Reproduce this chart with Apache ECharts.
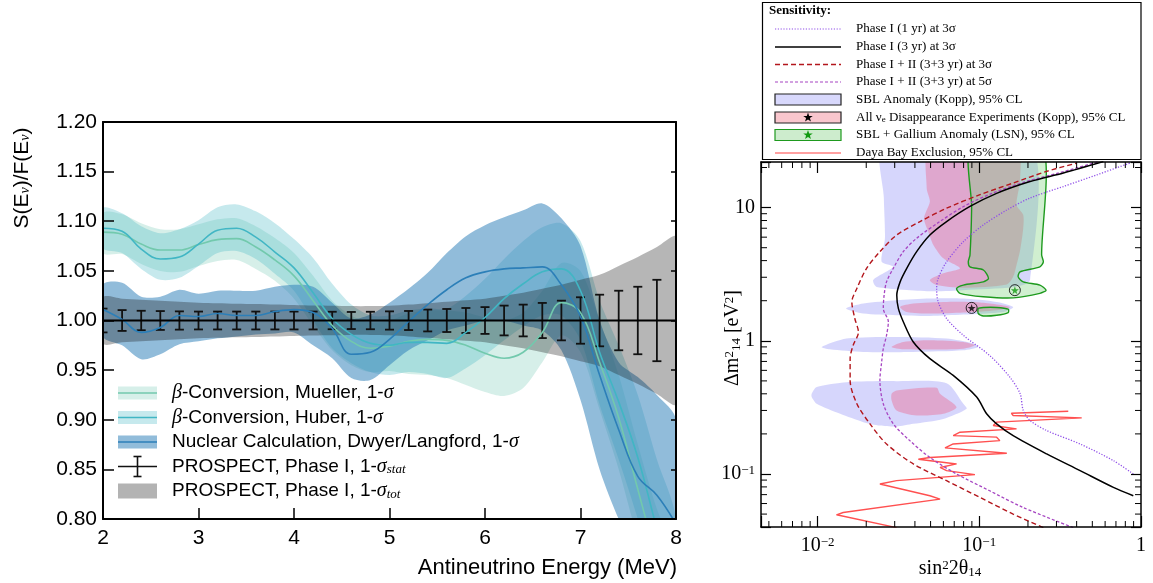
<!DOCTYPE html>
<html><head><meta charset="utf-8">
<script src="https://cdn.jsdelivr.net/npm/echarts@6/dist/echarts.min.js"></script>
<style>html,body{margin:0;padding:0;background:#fff}#c{width:1153px;height:583px}</style>
</head><body><div id="c"></div><script>
// ---------------- LEFT PANEL DATA ----------------
const energy = [2.0,2.2,2.4,2.6,2.8,3.0,3.2,3.4,3.6,3.8,4.0,4.2,4.4,4.6,4.8,5.0,5.2,5.4,5.6,5.8,6.0,6.2,6.4,6.6,6.8,7.0,7.2,7.4,7.6,7.8,8.0];
const muellerCentral = [1.089,1.087,1.077,1.071,1.071,1.0765,1.0815,1.0825,1.074,1.061,1.045,1.020,0.995,0.979,0.972,0.974,0.979,0.981,0.980,0.975,0.967,0.962,0.968,0.988,1.018,1.008,0.958,0.902,0.830,0.760,0.700];
const muellerHigh = [1.108,1.107,1.098,1.092,1.092,1.097,1.102,1.103,1.095,1.083,1.068,1.045,1.020,1.005,0.998,1.000,1.007,1.010,1.010,1.008,1.003,1.000,1.008,1.030,1.058,1.050,1.000,0.945,0.875,0.810,0.760];
const muellerLow = [1.068,1.067,1.057,1.050,1.049,1.055,1.060,1.061,1.052,1.040,1.022,0.995,0.970,0.955,0.948,0.949,0.946,0.945,0.942,0.935,0.928,0.924,0.932,0.958,0.985,0.968,0.910,0.850,0.780,0.720,0.680];
const huberCentral = [1.093,1.090,1.072,1.062,1.064,1.077,1.091,1.093,1.084,1.069,1.053,1.028,1.002,0.986,0.977,0.975,0.978,0.978,0.977,0.988,1.003,1.022,1.037,1.049,1.052,1.030,0.968,0.918,0.862,0.790,0.720];
const huberHigh = [1.113,1.108,1.095,1.088,1.092,1.101,1.114,1.117,1.110,1.098,1.082,1.063,1.037,1.016,1.005,1.005,1.010,1.012,1.012,1.025,1.042,1.062,1.080,1.094,1.098,1.080,1.020,0.975,0.925,0.860,0.800];
const huberLow = [1.073,1.068,1.052,1.041,1.043,1.055,1.068,1.070,1.062,1.047,1.030,1.000,0.972,0.957,0.948,0.945,0.948,0.946,0.942,0.952,0.965,0.980,0.994,1.005,1.005,0.980,0.915,0.860,0.800,0.730,0.660];
const dwyerCentral = [1.011,1.001,0.988,0.993,1.005,1.004,1.007,1.005,1.005,1.009,1.011,1.008,0.992,0.966,0.968,0.981,0.999,1.016,1.031,1.043,1.049,1.052,1.053,1.054,1.036,1.004,0.945,0.890,0.843,0.824,0.795];
const dwyerHigh = [1.036,1.038,1.024,1.024,1.031,1.027,1.030,1.030,1.030,1.034,1.036,1.034,1.018,1.002,1.006,1.018,1.032,1.048,1.068,1.085,1.096,1.104,1.111,1.118,1.103,1.075,1.000,0.958,0.943,0.925,0.900];
const dwyerLow = [0.984,0.975,0.961,0.966,0.976,0.979,0.982,0.984,0.986,0.987,0.988,0.975,0.962,0.942,0.940,0.955,0.970,0.980,0.990,0.995,1.000,1.000,0.995,0.990,0.970,0.920,0.850,0.800,0.760,0.740,0.720];
const prospectTotErr = [0.023,0.022,0.021,0.020,0.019,0.018,0.0175,0.017,0.0165,0.016,0.0155,0.015,0.0148,0.0145,0.0145,0.0148,0.016,0.0175,0.019,0.0205,0.022,0.025,0.028,0.032,0.036,0.041,0.046,0.055,0.064,0.074,0.084];
const prospectBins = [2.0,2.2,2.4,2.6,2.8,3.0,3.2,3.4,3.6,3.8,4.0,4.2,4.4,4.6,4.8,5.0,5.2,5.4,5.6,5.8,6.0,6.2,6.4,6.6,6.8,7.0,7.2,7.4,7.6,7.8];
const prospectStatErr = [0.012,0.0105,0.0098,0.0095,0.0092,0.009,0.009,0.009,0.009,0.009,0.009,0.009,0.0088,0.0086,0.0088,0.0092,0.0096,0.011,0.0116,0.0126,0.0135,0.015,0.016,0.0177,0.020,0.0234,0.026,0.030,0.034,0.041];
const prospectRatio = 1.0;
const leftLegendLabels = [
  '{it|β}-Conversion, Mueller, 1-{it|σ}',
  '{it|β}-Conversion, Huber, 1-{it|σ}',
  'Nuclear Calculation, Dwyer/Langford, 1-{it|σ}',
  'PROSPECT, Phase I, 1-{it|σ}{sub|stat}',
  'PROSPECT, Phase I, 1-{it|σ}{sub|tot}'
];

// ---------------- RIGHT PANEL DATA ([sin^2 2theta, dm2]) ----------------
const sensPhaseI1yr = [[0.896,0.100],[0.675,0.126],[0.420,0.168],[0.261,0.212],[0.206,0.252],[0.187,0.300],[0.179,0.400],[0.155,0.531],[0.116,0.776],[0.0797,1.10],[0.0628,1.47],[0.0557,1.96],[0.0545,2.47],[0.0557,2.94],[0.0628,3.92],[0.0797,5.55],[0.106,7.41],[0.148,9.6],[0.206,11.8],[0.331,14.4],[0.532,17.6],[0.855,21.6]];
const sensPhaseI3yr = [[0.896,0.0687],[0.675,0.0793],[0.420,0.106],[0.261,0.1415],[0.162,0.194],[0.128,0.238],[0.111,0.283],[0.0964,0.378],[0.069,0.550],[0.0495,0.734],[0.0391,0.98],[0.0339,1.39],[0.0316,1.75],[0.0309,2.20],[0.0324,2.77],[0.0356,3.50],[0.0410,4.67],[0.0495,6.22],[0.0628,7.85],[0.0876,10.2],[0.128,12.8],[0.206,15.7],[0.331,18.2],[0.585,22.2]];
const sensPhaseII3sig = [[0.249,0.0396],[0.162,0.050],[0.101,0.0667],[0.0628,0.089],[0.0391,0.119],[0.0267,0.168],[0.0211,0.238],[0.0175,0.337],[0.0159,0.505],[0.0159,0.734],[0.0166,0.925],[0.0179,1.16],[0.0170,1.47],[0.0163,1.96],[0.0175,2.47],[0.0201,3.50],[0.0243,4.67],[0.0308,6.22],[0.0430,7.85],[0.0628,9.9],[0.101,12.5],[0.162,15.3],[0.261,18.7],[0.401,21.6]];
const sensPhaseII5sig = [[0.381,0.0396],[0.187,0.056],[0.116,0.0748],[0.0724,0.100],[0.0495,0.133],[0.0372,0.178],[0.0294,0.238],[0.0255,0.337],[0.0243,0.505],[0.0249,0.692],[0.0255,0.873],[0.0267,1.10],[0.0274,1.39],[0.0255,1.75],[0.0258,2.20],[0.0267,2.77],[0.0294,3.50],[0.0339,4.67],[0.041,5.89],[0.057,7.85],[0.08,10.2],[0.12,12.8],[0.195,15.7],[0.31,18.2],[0.55,22.2]];
const dayaBay = [[0.0308,0.0396],[0.0131,0.0494],[0.0144,0.0514],[0.0572,0.0648],[0.0495,0.0687],[0.0243,0.0841],[0.0308,0.0891],[0.0940,0.0989],[0.0628,0.106],[0.0572,0.112],[0.0724,0.119],[0.0420,0.129],[0.0495,0.133],[0.148,0.143],[0.0614,0.157],[0.0690,0.168],[0.134,0.178],[0.128,0.189],[0.0690,0.194],[0.0760,0.206],[0.170,0.218],[0.122,0.231],[0.128,0.245],[0.430,0.264],[0.162,0.275],[0.158,0.286],[0.355,0.296]];
const sblMain = [[0.0255,30],[0.0257,11.8],[0.0261,5.89],[0.0249,3.92],[0.0294,3.59],[0.0221,2.86],[0.0232,2.54],[0.0495,2.36],[0.0797,2.40],[0.162,2.53],[0.206,2.86],[0.206,30]];
const sblIsland17 = [[0.0150,1.748],[0.0192,1.905],[0.0308,2.018],[0.0495,2.08],[0.0797,2.08],[0.128,1.96],[0.162,1.797],[0.141,1.647],[0.0797,1.574],[0.0495,1.537],[0.0308,1.556],[0.0192,1.603]];
const sblIsland09 = [[0.0106,0.898],[0.0151,1.039],[0.0308,1.068],[0.0628,1.039],[0.0918,0.953],[0.0986,0.898],[0.0797,0.848],[0.0391,0.824],[0.0192,0.824],[0.0119,0.863]];
const sblIsland03 = [[0.0092,0.400],[0.00987,0.449],[0.0151,0.489],[0.0308,0.498],[0.0628,0.481],[0.0797,0.337],[0.0835,0.309],[0.0599,0.259],[0.0391,0.238],[0.0308,0.227],[0.0243,0.231],[0.0192,0.245],[0.0138,0.283],[0.00987,0.337],[0.0092,0.378]];
const nueMain = [[0.0495,30],[0.0473,14.0],[0.0495,11.1],[0.0455,8.32],[0.0484,6.59],[0.0520,5.24],[0.0599,4.16],[0.0760,3.50],[0.0599,3.21],[0.0495,2.86],[0.0545,2.62],[0.0797,2.50],[0.148,2.65],[0.162,3.02],[0.170,3.70],[0.179,4.80],[0.187,7.0],[0.187,8.81],[0.170,10.5],[0.179,16.2],[0.170,30]];
const nueIsland17 = [[0.0324,1.797],[0.0391,1.905],[0.0628,1.96],[0.101,1.94],[0.155,1.797],[0.128,1.697],[0.0797,1.63],[0.0495,1.603],[0.0356,1.648]];
const nueIsland09 = [[0.0287,0.898],[0.0339,0.979],[0.0495,1.009],[0.0797,0.979],[0.094,0.925],[0.0797,0.873],[0.0495,0.859],[0.0339,0.863]];
const nueIsland03 = [[0.0287,0.400],[0.0308,0.424],[0.0545,0.445],[0.0572,0.400],[0.0724,0.317],[0.0599,0.283],[0.0410,0.275],[0.0308,0.300],[0.0287,0.356]];
const gaMain = [[0.0897,30],[0.0897,10],[0.0876,4.4],[0.0855,3.92],[0.0876,3.59],[0.106,3.40],[0.114,2.94],[0.106,2.77],[0.0797,2.62],[0.0724,2.47],[0.076,2.27],[0.106,2.14],[0.162,2.10],[0.237,2.27],[0.259,2.40],[0.237,2.62],[0.187,2.77],[0.174,3.02],[0.179,3.30],[0.237,3.59],[0.249,3.92],[0.243,4.41],[0.243,30]];
const gaIsland = [[0.0986,1.748],[0.106,1.778],[0.128,1.778],[0.151,1.726],[0.151,1.631],[0.128,1.556],[0.106,1.537],[0.0986,1.603]];
const bestFitNue = [0.0897,1.766];
const bestFitGa = [0.166,2.40];
const rightLegendLabels = [
  'Phase I (1 yr) at 3σ','Phase I (3 yr) at 3σ','Phase I + II (3+3 yr) at 3σ','Phase I + II (3+3 yr) at 5σ',
  'SBL Anomaly (Kopp), 95% CL','All ν{sub|e} Disappearance Experiments (Kopp), 95% CL','SBL + Gallium Anomaly (LSN), 95% CL','Daya Bay Exclusion, 95% CL'
];

// ---------------- STYLE ----------------
const SANS = "'Liberation Sans', Arial, Helvetica, sans-serif";
const SERIF = "'Liberation Serif', 'Times New Roman', serif";
const C_MUELLER = '#72c9ad', C_HUBER = '#41b6c4', C_DWYER = '#2c7fb8';
const F_MUELLER = 'rgba(127,205,187,0.32)', F_HUBER = 'rgba(65,182,196,0.30)', F_DWYER = 'rgba(44,127,184,0.52)', F_TOT = 'rgba(20,20,20,0.31)';
const C_1YR = '#8f4ee8', C_3YR = '#000000', C_II3 = '#b3161c', C_II5 = '#a645c2', C_DB = '#ff5050';
const F_SBL = 'rgba(180,180,250,0.55)', F_NUE = 'rgba(235,110,150,0.45)', F_GA = 'rgba(120,210,120,0.35)', C_GA = '#1e9a1e';
const STAR = 'path://M0,-10 L2.35,-3.24 L9.51,-3.09 L3.8,1.24 L5.88,8.09 L0,4 L-5.88,8.09 L-3.8,1.24 L-9.51,-3.09 L-2.35,-3.24 Z';
const RX = 2, RY = 2; // right panel axis indices

const chart = echarts.init(document.getElementById('c'), null, {renderer: 'canvas'});

function band(lo, hi, fill) {
  return {type:'custom', xAxisIndex:0, yAxisIndex:0, clip:true, silent:true, data:[[energy[0], lo[0]]],
    renderItem: (params, api) => {
      const pts = energy.map((e,i)=>api.coord([e, hi[i]]));
      for (let i = energy.length-1; i >= 0; i--) pts.push(api.coord([energy[i], lo[i]]));
      return {type:'polygon', shape:{points:pts, smooth:0.3}, style:{fill}};
    }};
}
function centralLine(vals, color) {
  return {type:'line', xAxisIndex:0, yAxisIndex:0, data: energy.map((e,i)=>[e, vals[i]]), symbol:'none', smooth:0.4,
          lineStyle:{color, width:1.6}, silent:true};
}
function region(points, fill, stroke) {
  return {type:'custom', xAxisIndex:RX, yAxisIndex:RY, clip:true, silent:true, data:[[points[0][0], points[0][1]]],
    renderItem: (params, api) => ({type:'polygon', shape:{points: points.map(p=>api.coord(p)), smooth:0.25},
      style:{fill, stroke: stroke || 'none', lineWidth: stroke ? 1.4 : 0}})};
}
function curve(points, color, type, width) {
  return {type:'line', xAxisIndex:RX, yAxisIndex:RY, data: points, symbol:'none', smooth:0.3, clip:true, silent:true,
          lineStyle:{color, type, width}};
}
function logLabel(v) {
  const l = Math.log10(v), e = Math.round(l);
  if (Math.abs(l - e) > 1e-6) return '';
  if (e === 0) return '1';
  if (e === 1) return '10';
  return '10{sup|' + (e < 0 ? '\u2212' : '') + Math.abs(e) + '}';
}
const minorX = [], minorY = [];
[0.001, 0.01, 0.1].forEach(d => { for (let k = 2; k <= 9; k++) { const v = d*k; if (v > 0.00447 && v < 1) minorX.push([v, 1]); } });
[0.01, 0.1, 1, 10].forEach(d => { for (let k = 2; k <= 9; k++) { const v = d*k; if (v > 0.04 && v < 22) minorY.push([0.1, v]); } });

const axBase = () => ({axisLine:{show:true, lineStyle:{color:'#000', width:2}}, splitLine:{show:false}, z:10});
const rAx = () => ({axisLine:{show:true, lineStyle:{color:'#000', width:1.5}}, splitLine:{show:false}, z:10});
const rLabel = () => ({color:'#000', fontSize:20, fontFamily:SERIF, formatter: logLabel,
  rich:{sup:{fontSize:13, fontFamily:SERIF, color:'#000', verticalAlign:'top'}}});

// ------------- legends and titles (graphic) -------------
const graphics = [];
graphics.push({type:'text', x:677, y:568, silent:true, style:{text:'Antineutrino Energy (MeV)', fontSize:22, fontFamily:SANS, fill:'#000', align:'right', verticalAlign:'middle'}});
graphics.push({type:'text', x:22, y:178, rotation:Math.PI/2, silent:true, style:{text:'S(E{sub|ν})/F(E{sub|ν})', fontSize:21, fontFamily:SANS, fill:'#000', align:'center', verticalAlign:'middle',
  rich:{sub:{fontSize:14, fontFamily:SERIF, fontStyle:'italic', fill:'#000', verticalAlign:'bottom'}}}});
const llRows = [393, 417.5, 442, 466.5, 491];
const llFills = [F_MUELLER, F_HUBER, F_DWYER];
const llLines = [C_MUELLER, C_HUBER, C_DWYER];
for (let i = 0; i < 3; i++) {
  graphics.push({type:'rect', silent:true, shape:{x:118, y:llRows[i]-6.5, width:39, height:13}, style:{fill:llFills[i]}});
  graphics.push({type:'line', silent:true, shape:{x1:118, y1:llRows[i], x2:157, y2:llRows[i]}, style:{stroke:llLines[i], lineWidth:1.6}});
}
graphics.push({type:'line', silent:true, shape:{x1:118, y1:llRows[3], x2:157, y2:llRows[3]}, style:{stroke:'#111', lineWidth:1.6}});
graphics.push({type:'line', silent:true, shape:{x1:137.5, y1:llRows[3]-10, x2:137.5, y2:llRows[3]+10}, style:{stroke:'#111', lineWidth:1.6}});
graphics.push({type:'line', silent:true, shape:{x1:133.5, y1:llRows[3]-10, x2:141.5, y2:llRows[3]-10}, style:{stroke:'#111', lineWidth:1.6}});
graphics.push({type:'line', silent:true, shape:{x1:133.5, y1:llRows[3]+10, x2:141.5, y2:llRows[3]+10}, style:{stroke:'#111', lineWidth:1.6}});
graphics.push({type:'rect', silent:true, shape:{x:118, y:llRows[4]-7.5, width:39, height:15}, style:{fill:'#b3b3b3'}});
leftLegendLabels.forEach((t, i) => graphics.push({type:'text', x:172, y:llRows[i], silent:true, style:{text:t, fontSize:19, fontFamily:SANS, fill:'#000', align:'left', verticalAlign:'middle',
  rich:{it:{fontSize:20, fontFamily:SERIF, fontStyle:'italic', fill:'#000'}, sub:{fontSize:13, fontFamily:SERIF, fontStyle:'italic', fill:'#000', verticalAlign:'bottom'}}}}));

graphics.push({type:'text', x:950, y:569, silent:true, style:{text:'sin{sup|2}2θ{sub|14}', fontSize:20, fontFamily:SERIF, fill:'#000', align:'center', verticalAlign:'middle',
  rich:{sup:{fontSize:13, fontFamily:SERIF, fill:'#000', verticalAlign:'top'}, sub:{fontSize:13, fontFamily:SERIF, fill:'#000', verticalAlign:'bottom'}}}});
graphics.push({type:'text', x:733, y:338, rotation:Math.PI/2, silent:true, style:{text:'Δm{sup|2}{sub|14} [eV{sup|2}]', fontSize:20, fontFamily:SERIF, fill:'#000', align:'center', verticalAlign:'middle',
  rich:{sup:{fontSize:13, fontFamily:SERIF, fill:'#000', verticalAlign:'top'}, sub:{fontSize:13, fontFamily:SERIF, fill:'#000', verticalAlign:'bottom'}}}});
graphics.push({type:'rect', silent:true, shape:{x:762.5, y:2.5, width:378.5, height:157}, style:{fill:'#fff', stroke:'#000', lineWidth:1.2}});
graphics.push({type:'text', x:769, y:11, silent:true, style:{text:'Sensitivity:', fontSize:13, fontWeight:'bold', fontFamily:SERIF, fill:'#000', align:'left', verticalAlign:'middle'}});
const rlRows = [29, 47, 64.5, 82, 99.5, 117.5, 135, 153];
const rlLine = [[C_1YR,[1.2,1.6],1.2],[C_3YR,null,1.5],[C_II3,[5,3],1.3],[C_II5,[3,2],1.2]];
rlLine.forEach((s, i) => graphics.push({type:'line', silent:true, shape:{x1:775, y1:rlRows[i], x2:841, y2:rlRows[i]}, style:{stroke:s[0], lineDash:s[1], lineWidth:s[2]}}));
graphics.push({type:'rect', silent:true, shape:{x:775, y:rlRows[4]-5.5, width:66, height:11}, style:{fill:'#d8d8fc', stroke:'#222', lineWidth:1.2}});
graphics.push({type:'rect', silent:true, shape:{x:775, y:rlRows[5]-5.5, width:66, height:11}, style:{fill:'#f9c6cd', stroke:'#222', lineWidth:1.2}});
graphics.push({type:'rect', silent:true, shape:{x:775, y:rlRows[6]-5.5, width:66, height:11}, style:{fill:'#cdeccd', stroke:C_GA, lineWidth:1.2}});
function starPts(cx, cy, R) { const p = []; for (let k = 0; k < 10; k++) { const a = -Math.PI/2 + k*Math.PI/5, r = k%2 ? R*0.4 : R; p.push([cx + r*Math.cos(a), cy + r*Math.sin(a)]); } return p; }
graphics.push({type:'polygon', silent:true, shape:{points:starPts(808, rlRows[5], 5)}, style:{fill:'#000'}});
graphics.push({type:'polygon', silent:true, shape:{points:starPts(808, rlRows[6], 5)}, style:{fill:'#119911'}});
graphics.push({type:'line', silent:true, shape:{x1:775, y1:rlRows[7], x2:841, y2:rlRows[7]}, style:{stroke:'#ff8080', lineWidth:1.5}});
rightLegendLabels.forEach((t, i) => graphics.push({type:'text', x:856, y:rlRows[i], silent:true, style:{text:t, fontSize:13, fontFamily:SERIF, fill:'#000', align:'left', verticalAlign:'middle',
  rich:{sub:{fontSize:9, fontFamily:SERIF, fill:'#000', verticalAlign:'bottom'}}}}));
graphics.forEach(g => { g.z = 100; });

const option = {
  animation: false,
  backgroundColor: '#fff',
  grid: [
    {left:103, top:122, width:573, height:397, containLabel:false},
    {left:761, top:162, width:380, height:365, containLabel:false}
  ],
  xAxis: [
    Object.assign({gridIndex:0, type:'value', min:2, max:8, interval:1, position:'bottom',
      axisTick:{inside:true, length:11, lineStyle:{color:'#000', width:1.5}},
      axisLabel:{color:'#000', fontSize:21, fontFamily:SANS, margin:9}}, axBase()),
    Object.assign({gridIndex:0, type:'value', min:2, max:8, interval:1, position:'top',
      axisTick:{show:false}, axisLabel:{show:false}}, axBase()),
    Object.assign({gridIndex:1, type:'log', logBase:10, min:0.00447, max:1, position:'bottom',
      axisTick:{inside:true, length:11, lineStyle:{color:'#000', width:1.2}}, axisLabel:Object.assign({margin:9}, rLabel())}, rAx()),
    Object.assign({gridIndex:1, type:'log', logBase:10, min:0.00447, max:1, position:'top',
      axisTick:{inside:true, length:11, lineStyle:{color:'#000', width:1.2}}, axisLabel:{show:false}}, rAx())
  ],
  yAxis: [
    Object.assign({gridIndex:0, type:'value', min:0.8, max:1.2, interval:0.05, position:'left',
      axisTick:{inside:true, length:11, lineStyle:{color:'#000', width:1.5}},
      axisLabel:{color:'#000', fontSize:21, fontFamily:SANS, margin:6, formatter:v=>v.toFixed(2)}}, axBase()),
    Object.assign({gridIndex:0, type:'value', min:0.8, max:1.2, interval:0.05, position:'right',
      axisTick:{inside:true, length:5, lineStyle:{color:'#000', width:1.5}}, axisLabel:{show:false}}, axBase()),
    Object.assign({gridIndex:1, type:'log', logBase:10, min:0.04, max:22, position:'left',
      axisTick:{inside:true, length:10, lineStyle:{color:'#000', width:1.2}}, axisLabel:Object.assign({margin:6}, rLabel())}, rAx()),
    Object.assign({gridIndex:1, type:'log', logBase:10, min:0.04, max:22, position:'right',
      axisTick:{inside:true, length:10, lineStyle:{color:'#000', width:1.2}}, axisLabel:{show:false}}, rAx())
  ],
  series: [
    band(muellerLow, muellerHigh, F_MUELLER),
    band(huberLow, huberHigh, F_HUBER),
    band(dwyerLow, dwyerHigh, F_DWYER),
    band(prospectTotErr.map(e=>prospectRatio-e), prospectTotErr.map(e=>prospectRatio+e), F_TOT),
    centralLine(muellerCentral, C_MUELLER),
    centralLine(huberCentral, C_HUBER),
    centralLine(dwyerCentral, C_DWYER),
    {type:'line', xAxisIndex:0, yAxisIndex:0, data:[[2, prospectRatio],[8, prospectRatio]], symbol:'none', lineStyle:{color:'#000', width:2}, silent:true},
    {type:'custom', xAxisIndex:0, yAxisIndex:0, clip:true, silent:true,
     data: prospectBins.map((e,i)=>[e, prospectRatio, prospectStatErr[i]]), encode:{x:0, y:1},
     renderItem:(params, api) => {
       const x = api.value(0), c = api.value(1), er = api.value(2);
       const t = api.coord([x, c+er]), b = api.coord([x, c-er]);
       return {type:'group', children:[
         {type:'line', shape:{x1:t[0], y1:t[1], x2:b[0], y2:b[1]}, style:{stroke:'#111', lineWidth:1.8}},
         {type:'line', shape:{x1:t[0]-4.5, y1:t[1], x2:t[0]+4.5, y2:t[1]}, style:{stroke:'#111', lineWidth:1.8}},
         {type:'line', shape:{x1:b[0]-4.5, y1:b[1], x2:b[0]+4.5, y2:b[1]}, style:{stroke:'#111', lineWidth:1.8}}]};
     }},
    region(sblMain, F_SBL), region(sblIsland17, F_SBL), region(sblIsland09, F_SBL), region(sblIsland03, F_SBL),
    region(nueMain, F_NUE), region(nueIsland17, F_NUE), region(nueIsland09, F_NUE), region(nueIsland03, F_NUE),
    region(gaMain, F_GA, C_GA), region(gaIsland, F_GA, C_GA),
    {type:'line', xAxisIndex:RX, yAxisIndex:RY, data:dayaBay, symbol:'none', clip:true, silent:true, lineStyle:{color:C_DB, width:1.4}},
    curve(sensPhaseII3sig, C_II3, [5,3], 1.4),
    curve(sensPhaseII5sig, C_II5, [3,2], 1.3),
    curve(sensPhaseI1yr, C_1YR, [1.2,1.6], 1.3),
    curve(sensPhaseI3yr, C_3YR, 'solid', 1.5),
    {type:'scatter', xAxisIndex:RX, yAxisIndex:RY, data:[bestFitNue, bestFitGa], symbol:'circle', symbolSize:11, silent:true,
     itemStyle:{color:'rgba(0,0,0,0)', borderColor:'#000', borderWidth:1}},
    {type:'scatter', xAxisIndex:RX, yAxisIndex:RY, data:[bestFitNue], symbol:STAR, symbolSize:8, silent:true, itemStyle:{color:'#000'}},
    {type:'scatter', xAxisIndex:RX, yAxisIndex:RY, data:[bestFitGa], symbol:STAR, symbolSize:8, silent:true, itemStyle:{color:'#119911'}},
    {type:'custom', xAxisIndex:RX, yAxisIndex:RY, silent:true, z:10, data:minorX,
     renderItem:(params, api) => { const cs = params.coordSys; const px = api.coord([api.value(0), api.value(1)])[0];
       return {type:'group', children:[
         {type:'line', shape:{x1:px, y1:cs.y+cs.height, x2:px, y2:cs.y+cs.height-6}, style:{stroke:'#000', lineWidth:1}},
         {type:'line', shape:{x1:px, y1:cs.y, x2:px, y2:cs.y+6}, style:{stroke:'#000', lineWidth:1}}]}; }},
    {type:'custom', xAxisIndex:RX, yAxisIndex:RY, silent:true, z:10, data:minorY,
     renderItem:(params, api) => { const cs = params.coordSys; const py = api.coord([api.value(0), api.value(1)])[1];
       return {type:'group', children:[
         {type:'line', shape:{x1:cs.x, y1:py, x2:cs.x+6, y2:py}, style:{stroke:'#000', lineWidth:1}},
         {type:'line', shape:{x1:cs.x+cs.width, y1:py, x2:cs.x+cs.width-6, y2:py}, style:{stroke:'#000', lineWidth:1}}]}; }}
  ],
  graphic: graphics
};
chart.setOption(option);
</script></body></html>
